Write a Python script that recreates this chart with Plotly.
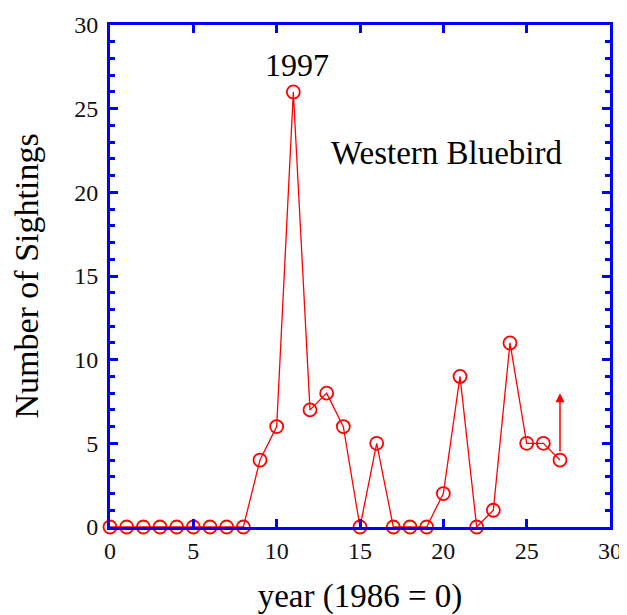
import plotly.graph_objects as go

years = list(range(28))
sightings = [0, 0, 0, 0, 0, 0, 0, 0, 0, 4, 6, 26, 7, 8, 6, 0, 5, 0, 0, 0, 2, 9, 0, 1, 11, 5, 5, 4]
arrow_x = 27
arrow_from = 4
arrow_to = 8

red = "#ff0000"
blue = "#0000ff"
font = "Liberation Serif, Times New Roman, serif"

fig = go.Figure()
fig.add_trace(go.Scatter(
    x=years, y=sightings, mode="lines+markers",
    line=dict(color=red, width=1.3),
    marker=dict(symbol="circle-open", size=13, color=red, line=dict(width=1.8, color=red)),
    cliponaxis=False, showlegend=False,
))

fig.add_annotation(x=arrow_x, y=arrow_to, ax=arrow_x, ay=arrow_from, xref="x", yref="y",
                   axref="x", ayref="y", showarrow=True, arrowhead=2, arrowsize=1.2,
                   arrowwidth=1.5, arrowcolor=red, startstandoff=7, text="")
fig.add_annotation(x=11.2, y=27.6, xref="x", yref="y", text="1997", showarrow=False,
                   font=dict(family=font, size=32, color="black"))
fig.add_annotation(x=20.2, y=22.35, xref="x", yref="y", text="Western Bluebird", showarrow=False,
                   font=dict(family=font, size=33, color="black"))

axis_common = dict(
    showline=True, linecolor=blue, linewidth=3, mirror="allticks",
    ticks="inside", tickcolor=blue, tickwidth=3, ticklen=8,
    showgrid=False, zeroline=False, automargin=False,
    tickfont=dict(family=font, size=24, color="#111111"),
)
fig.update_xaxes(range=[0, 30], tick0=0, dtick=5,
                 title=dict(text="year (1986 = 0)", font=dict(family=font, size=33, color="black"), standoff=26),
                 **axis_common)
fig.update_yaxes(range=[0, 30], tick0=0, dtick=5, ticklabelstandoff=4,
                 minor=dict(ticks="inside", dtick=1, ticklen=5, tickcolor=blue, tickwidth=3, showgrid=False),
                 title=dict(text="Number of Sightings", font=dict(family=font, size=34, color="black"), standoff=26),
                 **axis_common)

fig.update_layout(
    width=619, height=607,
    margin=dict(l=102, r=17, t=17, b=88),
    plot_bgcolor="white", paper_bgcolor="white",
)
fig.write_html("out.html")
